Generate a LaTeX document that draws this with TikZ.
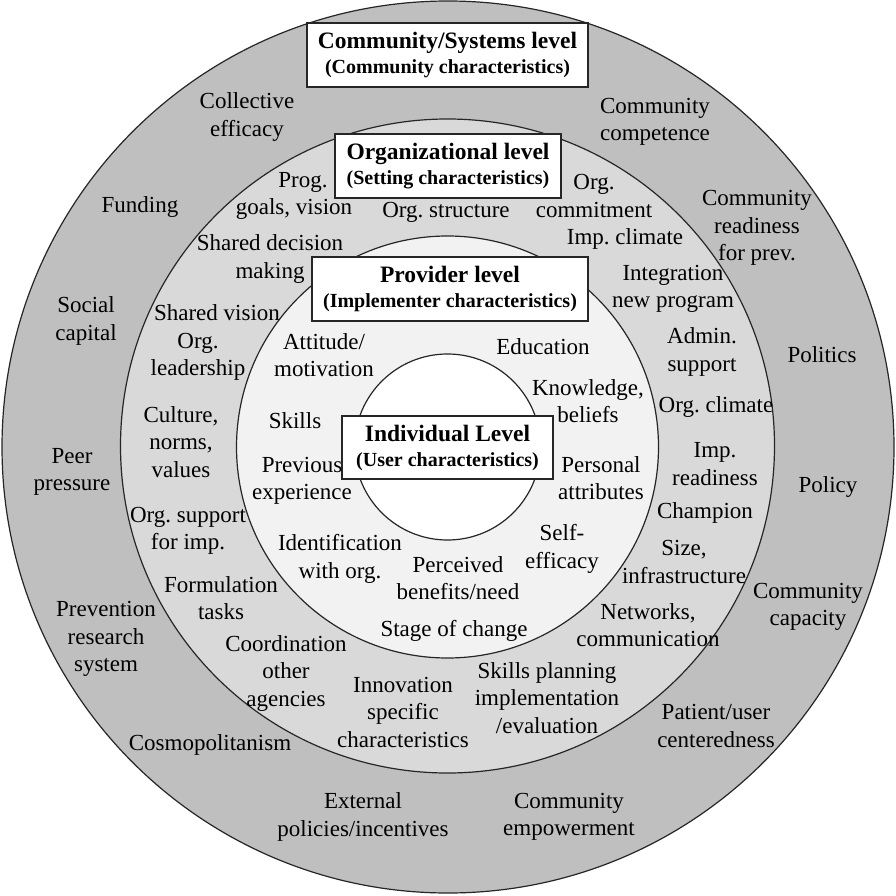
\documentclass[tikz,border=0pt]{standalone}
\usepackage{fontspec}
\setmainfont{Liberation Serif}
\frenchspacing
\definecolor{ringout}{RGB}{191,191,191}
\definecolor{ringorg}{RGB}{217,217,217}
\definecolor{ringprov}{RGB}{242,242,242}
\begin{document}
\begin{tikzpicture}[x=1pt,y=-1pt]
\tikzset{
  lbl/.style={align=center,inner sep=0pt,font=\fontsize{23}{27.5}\selectfont},
  ring/.style={draw=black!85,line width=1.2pt},
  titlebox/.style={draw=black!85,fill=white,line width=1.4pt,align=center,inner sep=0pt,font=\fontsize{23.5}{25}\selectfont\bfseries},
}
\newcommand{\ttlA}[2]{#1\\{\fontsize{20}{25}\selectfont #2}}
\useasboundingbox (0,0) rectangle (896,896);
\fill[white] (0,0) rectangle (896,896);
% rings
\draw[ring,fill=ringout] (448,447) circle (446pt);
\draw[ring,fill=ringorg] (447.5,446) circle (327pt);
\draw[ring,fill=ringprov] (447.5,447) circle (211pt);
\draw[ring,fill=white] (447.5,447) circle (93pt);
% title boxes
\node[titlebox,minimum width=281pt,minimum height=64pt] (tcomm) at (447.5,55) {\ttlA{Community/Systems level}{(Community characteristics)}};
\node[titlebox,minimum width=226pt,minimum height=64pt] (torg) at (448,166) {\ttlA{Organizational level}{(Setting characteristics)}};
\node[titlebox,minimum width=276pt,minimum height=64pt] (tprov) at (450,289) {\ttlA{Provider level}{(Implementer characteristics)}};
\node[titlebox,minimum width=211pt,minimum height=63pt] (tind) at (447.5,447.5) {\ttlA{Individual Level}{(User characteristics)}};
% outer ring labels
\node[lbl] (c1) at (247,117) {Collective\\efficacy};
\node[lbl] (c2) at (655,122) {Community\\competence};
\node[lbl] (c3) at (140,207) {Funding};
\node[lbl] (c4) at (757,228) {Community\\readiness\\for prev.};
\node[lbl] (c5) at (86,321) {Social\\capital};
\node[lbl] (c6) at (822,355) {Politics};
\node[lbl] (c7) at (72,472) {Peer\\pressure};
\node[lbl] (c8) at (828,487) {Policy};
\node[lbl] (c9) at (808,607) {Community\\capacity};
\node[lbl] (c10) at (106,639) {Prevention\\research\\system};
\node[lbl] (c11) at (716,726) {Patient/user\\centeredness};
\node[lbl] (c12) at (210,745) {Cosmopolitanism};
\node[lbl] (c13) at (363,817) {External\\policies/incentives};
\node[lbl] (c14) at (569,817) {Community\\empowerment};
% organizational ring labels
\node[lbl] (o1) at (294,196) {\hspace*{18pt}Prog.\\goals, vision};
\node[lbl] (o2) at (446,212) {Org. structure};
\node[lbl] (o3) at (594,196) {Org.\\commitment};
\node[lbl] (o4) at (625,239) {Imp. climate};
\node[lbl] (o5) at (270,259) {Shared decision\\making};
\node[lbl] (o6) at (673,289) {Integration\\new program};
\node[lbl] (o7) at (217,313) {Shared vision};
\node[lbl] (o8) at (198,357) {Org.\\leadership};
\node[lbl] (o9) at (702,352) {Admin.\\support};
\node[lbl] (o10) at (181,442) {Culture,\\norms,\\values};
\node[lbl] (o11) at (716,407) {Org. climate};
\node[lbl] (o12) at (715,464) {Imp.\\readiness};
\node[lbl] (o13) at (188,531) {Org. support\\for imp.};
\node[lbl] (o14) at (705,513) {Champion};
\node[lbl] (o15) at (684,562) {Size,\\infrastructure};
\node[lbl] (o16) at (221,598) {Formulation\\tasks};
\node[lbl] (o17) at (648,625) {Networks,\\communication};
\node[lbl] (o18) at (286,673) {Coordination\\other\\agencies};
\node[lbl] (o19) at (403,712) {Innovation\\specific\\characteristics};
\node[lbl] (o20) at (547,698) {Skills planning\\implementation\\/evaluation};
% provider ring labels
\node[lbl] (p1) at (324,355) {Attitude/\\motivation};
\node[lbl] (p2) at (543,347) {Education};
\node[lbl] (p3) at (588,401) {Knowledge,\\beliefs};
\node[lbl] (p4) at (295,421) {Skills};
\node[lbl] (p5) at (302,481) {Previous\\experience};
\node[lbl] (p6) at (601,478) {Personal\\attributes};
\node[lbl] (p7) at (562,549) {Self-\\efficacy};
\node[lbl] (p8) at (340,559) {Identification\\with org.};
\node[lbl] (p9) at (458,578) {Perceived\\benefits/need};
\node[lbl] (p10) at (454,631) {Stage of change};
\end{tikzpicture}
\end{document}
